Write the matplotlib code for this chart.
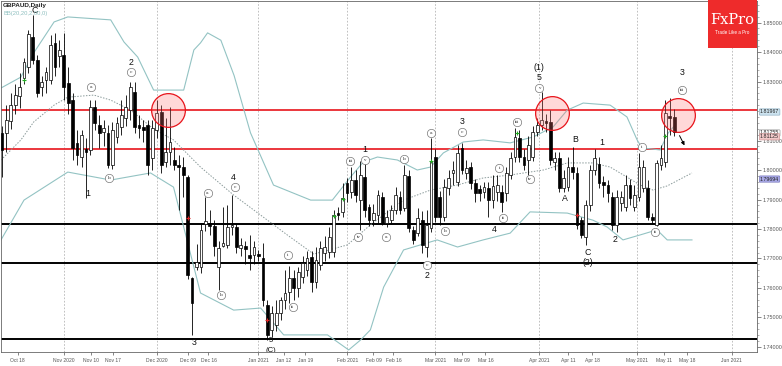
import matplotlib
matplotlib.use("Agg")
import matplotlib.pyplot as plt
import numpy as np
from matplotlib.patches import Rectangle
import matplotlib.transforms as mtransforms

plt.rcParams["font.family"] = ["Liberation Sans", "DejaVu Sans"]

# ---------------- data ----------------
opens = [1.8125,1.8125,1.8165,1.8220,1.8250,1.8312,1.8349,1.8451,1.8373,1.8281,
         1.8305,1.8305,1.8430,1.8386,1.8390,1.8295,1.8237,1.8092,1.8044,1.8070,
         1.8068,1.8214,1.8153,1.8130,1.8125,1.8017,1.8112,1.8146,1.8176,1.8203,
         1.8265,1.8153,1.8146,1.8153,1.8040,1.8136,1.8196,1.8027,1.8061,1.8034,
         1.8017,1.8010,1.7976,1.7634,1.7671,1.7670,1.7817,1.7820,1.7810,1.7671,
         1.7742,1.7746,1.7807,1.7807,1.7736,1.7742,1.7712,1.7712,1.7715,1.7702,
         1.7542,1.7458,1.7475,1.7515,1.7559,1.7586,1.7634,1.7600,1.7637,1.7661,
         1.7705,1.7620,1.7678,1.7719,1.7722,1.7722,1.7854,1.7858,1.7956,1.7925,
         1.7966,1.7900,1.7976,1.7875,1.7831,1.7847,1.7908,1.7820,1.7831,1.7864,
         1.7908,1.7871,1.7980,1.7797,1.7786,1.7830,1.7739,1.7803,1.8044,1.7908,
         1.7841,1.7939,1.7990,1.7960,1.8075,1.7990,1.8010,1.7956,1.7935,1.7925,
         1.7939,1.7898,1.7925,1.7925,1.7922,1.7983,1.8044,1.8108,1.8044,1.8034,
         1.8044,1.8129,1.8153,1.8166,1.8163,1.8027,1.8041,1.7939,1.7942,1.8010,
         1.7990,1.7830,1.7773,1.7881,1.8000,1.8020,1.7959,1.7949,1.7908,1.7814,
         1.7888,1.7875,1.7949,1.7875,1.7908,1.7939,1.7939,1.7841,1.7814,1.8017,
         1.8027,1.8183,1.8180]
highs = [1.8150,1.8220,1.8260,1.8290,1.8330,1.8380,1.8475,1.8525,1.8390,1.8320,
         1.8350,1.8458,1.8465,1.8440,1.8464,1.8350,1.8260,1.8135,1.8136,1.8110,
         1.8237,1.8237,1.8186,1.8170,1.8153,1.8163,1.8180,1.8237,1.8254,1.8300,
         1.8300,1.8186,1.8170,1.8170,1.8170,1.8237,1.8220,1.8176,1.8214,1.8078,
         1.8050,1.8044,1.7983,1.7637,1.7750,1.7820,1.7908,1.7865,1.7830,1.7760,
         1.7874,1.7881,1.7915,1.7820,1.7770,1.7760,1.7780,1.7760,1.7730,1.7753,
         1.7559,1.7540,1.7560,1.7570,1.7660,1.7675,1.7660,1.7670,1.7710,1.7725,
         1.7725,1.7739,1.7760,1.7775,1.7807,1.7865,1.7875,1.7956,1.7973,1.8010,
         1.8000,1.8030,1.8027,1.7885,1.7885,1.7932,1.7925,1.7865,1.7880,1.7942,
         1.7930,1.8017,1.8000,1.7810,1.7870,1.7860,1.7864,1.8108,1.8071,1.7930,
         1.7970,1.8000,1.8030,1.8085,1.8092,1.8035,1.8027,1.7970,1.7949,1.7960,
         1.7960,1.7983,1.7983,1.7950,1.8010,1.8060,1.8142,1.8136,1.8070,1.8115,
         1.8150,1.8176,1.8264,1.8190,1.8203,1.8060,1.8061,1.8000,1.8044,1.8078,
         1.8010,1.7841,1.7900,1.8017,1.8070,1.8044,1.7980,1.7966,1.7925,1.7932,
         1.7930,1.7983,1.7970,1.7950,1.8058,1.8034,1.7966,1.7854,1.8034,1.8085,
         1.8237,1.8244,1.8207]
lows = [1.7975,1.8060,1.8140,1.8190,1.8210,1.8290,1.8330,1.8360,1.8247,1.8250,
        1.8260,1.8290,1.8320,1.8350,1.8237,1.8190,1.8035,1.8017,1.8010,1.7905,
        1.8050,1.8135,1.8075,1.8080,1.8007,1.8005,1.8090,1.8120,1.8150,1.8170,
        1.8125,1.8110,1.8095,1.7983,1.8000,1.8110,1.7990,1.8010,1.8017,1.8000,
        1.7865,1.7910,1.7630,1.7441,1.7660,1.7650,1.7793,1.7780,1.7710,1.7593,
        1.7740,1.7735,1.7780,1.7720,1.7710,1.7680,1.7660,1.7680,1.7690,1.7540,
        1.7424,1.7435,1.7455,1.7490,1.7530,1.7550,1.7559,1.7570,1.7617,1.7640,
        1.7586,1.7600,1.7660,1.7690,1.7700,1.7705,1.7830,1.7840,1.7890,1.7905,
        1.7890,1.7797,1.7840,1.7810,1.7810,1.7820,1.7814,1.7807,1.7820,1.7850,
        1.7850,1.7860,1.7790,1.7750,1.7775,1.7718,1.7705,1.7790,1.7825,1.7813,
        1.7827,1.7915,1.7950,1.7945,1.7985,1.7970,1.7935,1.7890,1.7895,1.7905,
        1.7840,1.7870,1.7895,1.7857,1.7895,1.7970,1.8027,1.8027,1.8000,1.7983,
        1.8030,1.8115,1.8136,1.8130,1.8017,1.8000,1.7925,1.7925,1.7930,1.7970,
        1.7800,1.7770,1.7746,1.7860,1.7983,1.7940,1.7910,1.7890,1.7797,1.7790,
        1.7860,1.7860,1.7880,1.7860,1.7895,1.7925,1.7830,1.7817,1.7810,1.8000,
        1.8010,1.8120,1.8115]
closes = [1.8068,1.8169,1.8220,1.8255,1.8280,1.8366,1.8460,1.8373,1.8260,1.8298,
          1.8332,1.8424,1.8350,1.8407,1.8280,1.8227,1.8075,1.8051,1.8119,1.8060,
          1.8214,1.8160,1.8125,1.8142,1.8017,1.8136,1.8160,1.8186,1.8214,1.8283,
          1.8146,1.8142,1.8136,1.8017,1.8142,1.8193,1.8017,1.8061,1.8095,1.8017,
          1.8010,1.7983,1.7644,1.7549,1.7688,1.7797,1.7827,1.7810,1.7742,1.7735,
          1.7752,1.7807,1.7814,1.7739,1.7746,1.7732,1.7702,1.7739,1.7708,1.7559,
          1.7441,1.7515,1.7515,1.7559,1.7583,1.7634,1.7600,1.7654,1.7685,1.7702,
          1.7620,1.7695,1.7736,1.7739,1.7773,1.7847,1.7847,1.7905,1.7922,1.7966,
          1.7915,1.7983,1.7864,1.7831,1.7854,1.7915,1.7820,1.7840,1.7864,1.7915,
          1.7864,1.7983,1.7803,1.7763,1.7837,1.7746,1.7814,1.8027,1.7840,1.7841,
          1.7942,1.7973,1.8000,1.8058,1.8000,1.8007,1.7956,1.7922,1.7922,1.7942,
          1.7898,1.7946,1.7950,1.7891,1.7990,1.8041,1.8112,1.8044,1.8017,1.8085,
          1.8129,1.8153,1.8170,1.8159,1.8034,1.8041,1.7939,1.7973,1.8010,1.7993,
          1.7814,1.7780,1.7881,1.8000,1.8041,1.7956,1.7949,1.7922,1.7814,1.7908,
          1.7908,1.7949,1.7905,1.7915,1.8010,1.8010,1.7841,1.7830,1.8024,1.8041,
          1.8193,1.8176,1.8129]

# Bollinger bands (20, 2) at sample bars
bb_up_x = [0.8, 5.3, 8.2, 12.8, 15.9, 25.6, 28.6, 31.7, 35.3, 42.1, 44.4, 45.9, 47.5, 50.5,
           53.5, 57.2, 62.4, 70.8, 75.7, 79.8, 82.7, 85.9, 90.4, 94.9, 97.9, 100.8, 105.3,
           109.8, 115.9, 121.1, 125.6, 128.8, 132.4, 138.5, 142.3, 144.6, 145.7, 149.8,
           151.6, 153.2]
bb_up = [1.8278, 1.8315, 1.8397, 1.8502, 1.8519, 1.8509, 1.8434, 1.8383, 1.8271, 1.8271,
         1.8407, 1.8431, 1.8465, 1.8440, 1.8320, 1.8126, 1.7949, 1.7898, 1.7898, 1.7976,
         1.8027, 1.8044, 1.8034, 1.8000, 1.8010, 1.8058, 1.8095, 1.8102, 1.8092, 1.8112,
         1.8146, 1.8203, 1.8227, 1.8220, 1.8180, 1.8102, 1.8075, 1.8068, 1.8125, 1.8153]
bb_mid_x = [0.8, 5.3, 8.2, 12.8, 15.9, 21.8, 25.6, 30.1, 35.3, 39.8, 45.9, 53.4, 59.5,
            65.5, 71.5, 79.1, 84.3, 91.8, 97.9, 103.9, 109.8, 115.9, 123.4, 128.8, 134.6,
            138.5, 142.3, 145.3, 148.2, 151.4, 157.0]
bb_mid = [1.8034, 1.8102, 1.8163, 1.8220, 1.8247, 1.8254, 1.8237, 1.8203, 1.8139, 1.8102,
          1.8010, 1.7915, 1.7847, 1.7780, 1.7715, 1.7746, 1.7814, 1.7898, 1.7932, 1.7949,
          1.7973, 1.7983, 1.8000, 1.8024, 1.8024, 1.8010, 1.7976, 1.7949, 1.7932, 1.7946,
          1.7990]
bb_lo_x = [0.8, 6.0, 15.9, 25.6, 34.6, 39.8, 45.9, 53.4, 59.5, 64.7, 74.6, 79.4, 82.1, 84.3,
           87.3, 91.8, 99.4, 104.0, 109.8, 115.9, 120.4, 128.8, 134.6, 137.8, 141.4, 145.3,
           149.1, 151.4, 157.0]
bb_lo = [1.7763, 1.7898, 1.7993, 1.7966, 1.7990, 1.7942, 1.7583, 1.7525, 1.7532, 1.7441,
         1.7441, 1.7390, 1.7424, 1.7458, 1.7603, 1.7729, 1.7763, 1.7739, 1.7763, 1.7786,
         1.7858, 1.7854, 1.7830, 1.7807, 1.7763, 1.7780, 1.7797, 1.7763, 1.7763]

red_levels = [1.8205, 1.8071]
black_levels = [1.7817, 1.7685, 1.7427]

xtick_pos = [4.6, 15, 21.1, 26.1, 36, 43, 47.7, 59, 64.7, 69.6, 79.1, 85, 89.5,
             99, 105.1, 110.3, 122.5, 129, 134.4, 144.6, 150.7, 155.9, 166]
xtick_lab = ["Oct 18", "Nov 2020", "Nov 10", "Nov 17", "Dec 2020", "Dec 09", "Dec 16",
             "Jan 2021", "Jan 12", "Jan 19", "Feb 2021", "Feb 09", "Feb 16",
             "Mar 2021", "Mar 09", "Mar 16", "Apr 2021", "Apr 11", "Apr 18",
             "May 2021", "May 11", "May 18", "Jun 2021"]
month_lines = [15, 36, 59, 79.1, 99, 122.5, 144.6, 166]

ytick_vals = [1.74, 1.75, 1.76, 1.77, 1.78, 1.79, 1.80, 1.81, 1.83, 1.84, 1.85]

# wave labels: plain text
wave_txt = ["C", "2", "1", "4", "3", "5", "(C)", "1", "2", "3", "4", "(1)", "5",
            "A", "B", "C", "(2)", "1", "2", "3"]
wave_x = [8.4, 30.1, 20.4, 53.4, 44.4, 61.7, 61.7, 83.0, 97.2, 105.1, 112.3, 122.5, 122.5,
          128.3, 130.6, 133.5, 133.5, 136.5, 139.6, 154.7]
wave_y = [1.8540, 1.8366, 1.7922, 1.7973, 1.7414, 1.7421, 1.7389, 1.8068, 1.7644, 1.8163,
          1.7797, 1.8349, 1.8312, 1.7902, 1.8105, 1.7722, 1.7688, 1.8092, 1.7763, 1.8332]
wave_fs = [6.3, 6.3, 6.3, 6.3, 6.3, 5.6, 5.6, 6.3, 6.3, 6.3, 6.3, 6.3, 6.3,
           6.3, 6.3, 6.3, 6.3, 6.3, 6.3, 6.3]
# circled sub-wave labels
circ_txt = ["c", "a", "b", "c", "a", "b", "i", "ii", "iii", "v", "iv", "a", "b", "a",
            "c", "b", "c", "i", "ii", "iii", "iv", "v", "i", "ii", "iii"]
circ_x = [30.1, 21.1, 25.2, 53.6, 47.5, 50.5, 65.6, 66.7, 79.8, 83.0, 81.6, 87.9, 92.0,
          98.1, 97.2, 101.2, 105.1, 113.4, 114.3, 117.5, 120.4, 122.5, 145.7, 148.7, 154.7]
circ_y = [1.8332, 1.8281, 1.7973, 1.7942, 1.7922, 1.7576, 1.7712, 1.7536, 1.8031, 1.8034,
          1.7773, 1.7773, 1.8037, 1.8125, 1.7678, 1.7793, 1.8129, 1.8007, 1.7837, 1.8163,
          1.7969, 1.8278, 1.8078, 1.7790, 1.8271]

hot_x = [38.5, 125.4, 153.8]
hot_y = [1.8203, 1.8193, 1.8186]

green_x = [6, 76, 78, 98, 117.5, 151]
green_y = [1.8305, 1.7844, 1.7902, 1.8031, 1.8125, 1.8115]
red_x = [43, 61, 131]
red_y = [1.7837, 1.7492, 1.7847]

price_tags = [("1.81967", 1.81967, "#cde3ef", "#7fa6bd"),
              ("1.81255", 1.81255, "#ffffff", "#888888"),
              ("1.81125", 1.81125, "#f3c9c9", "#c98a8a"),
              ("1.79694", 1.79694, "#a9a9e6", "#6b6bb5")]

# ---------------- figure ----------------
W, H = 782, 366
fig = plt.figure(figsize=(W / 100, H / 100), dpi=100)
fig.patch.set_facecolor("white")
ax = fig.add_axes([1 / W, 14 / H, 756 / W, 351 / H])
ax.set_xlim(0.8, 171.7)
ax.set_ylim(1.7383, 1.8573)

# month grid lines
for m in month_lines:
    ax.axvline(m, color="#b5b5b5", lw=0.6, ls=(0, (2, 2)), zorder=0)

# horizontal levels
for lv in red_levels:
    ax.axhline(lv, color="#e8141b", lw=1.2, zorder=1)
for lv in black_levels:
    ax.axhline(lv, color="black", lw=1.4, zorder=1)

# Bollinger bands
ax.plot(bb_up_x, bb_up, color="#93c3c3", lw=0.8, zorder=2)
ax.plot(bb_lo_x, bb_lo, color="#93c3c3", lw=0.8, zorder=2)
ax.plot(bb_mid_x, bb_mid, color="#8a9a9a", lw=0.7, ls=(0, (1.5, 1.5)), zorder=2)

# candles
idx = np.arange(1, len(opens) + 1)
o = np.array(opens); c = np.array(closes)
ax.vlines(idx, lows, highs, color="black", lw=0.6, zorder=3)
bull = c >= o
ax.bar(idx[bull], c[bull] - o[bull], bottom=o[bull], width=0.62, color="white",
       edgecolor="black", lw=0.5, zorder=4)
ax.bar(idx[~bull], o[~bull] - c[~bull], bottom=c[~bull], width=0.62, color="black",
       edgecolor="black", lw=0.5, zorder=4)

# signal markers
ax.scatter(green_x, green_y, marker="+", color="#22aa22", s=12, lw=0.8, zorder=5)
ax.scatter(red_x, red_y, marker="+", color="#dd2222", s=12, lw=0.8, zorder=5)

# highlight circles
ax.scatter(hot_x, hot_y, s=590, facecolor=(1, 0.45, 0.45, 0.28), edgecolor="#e8141b",
           lw=0.9, zorder=6)

# wave labels
for t, x, y, fs in zip(wave_txt, wave_x, wave_y, wave_fs):
    ax.text(x, y, t, fontsize=fs, ha="center", va="center", color="#111", zorder=7,
            clip_on=True)
ax.scatter(circ_x, circ_y, s=36, facecolor="white", edgecolor="#777", lw=0.5, zorder=7)
for t, x, y in zip(circ_txt, circ_x, circ_y):
    ax.text(x, y, t, fontsize=3.2, ha="center", va="center", color="#333", zorder=8,
            family="DejaVu Serif")

# arrow
ax.annotate("", xy=(155.6, 1.8075), xytext=(153.9, 1.8125),
            arrowprops=dict(arrowstyle="-|>", color="black", lw=0.7, mutation_scale=5),
            zorder=8)

# axes styling
ax.yaxis.tick_right()
ax.set_yticks(ytick_vals)
ax.set_yticklabels([f"{v:.5f}" for v in ytick_vals])
ax.set_yticks(np.arange(1.740, 1.857, 0.002), minor=True)
ax.tick_params(axis="y", which="major", labelsize=3.9, colors="#555", length=3, width=0.5, pad=1)
ax.tick_params(axis="y", which="minor", length=1.5, width=0.4, colors="#777")
ax.set_xticks(xtick_pos)
ax.set_xticklabels(xtick_lab)
ax.tick_params(axis="x", labelsize=3.6, colors="#555", length=2, width=0.5, pad=2.5)
for sp in ax.spines.values():
    sp.set_color("#666")
    sp.set_linewidth(0.6)

# price tags on right scale
trans = mtransforms.blended_transform_factory(ax.transAxes, ax.transData)
for lab, val, fc, ec in price_tags:
    ax.text(1.004, val, lab, transform=trans, fontsize=3.8, va="center", ha="left",
            color="#222", clip_on=False, zorder=10,
            bbox=dict(boxstyle="round,pad=0.12", fc=fc, ec=ec, lw=0.4))

# titles
fig.text(3 / W, 1 - 6 / H, "GBPAUD,Daily", fontsize=4.6, fontweight="bold", color="#222",
         va="center", ha="left")
fig.text(3 / W, 1 - 14 / H, "BB(20,20,2.00,0)", fontsize=4.2, color="#8fc0c0",
         va="center", ha="left")

# FxPro logo
fig.patches.append(Rectangle((708 / W, 1 - 48 / H), 49 / W, 48 / H, transform=fig.transFigure,
                             facecolor="#ee2b2b", edgecolor="none", zorder=20))
fig.text(732 / W, 1 - 20 / H, "FxPro", fontsize=10.5, color="white", family="DejaVu Serif",
         ha="center", va="center", zorder=21)
fig.text(732 / W, 1 - 33 / H, "Trade Like a Pro", fontsize=3.3, color="white",
         ha="center", va="center", zorder=21)

fig.savefig("out.png", dpi=100)
